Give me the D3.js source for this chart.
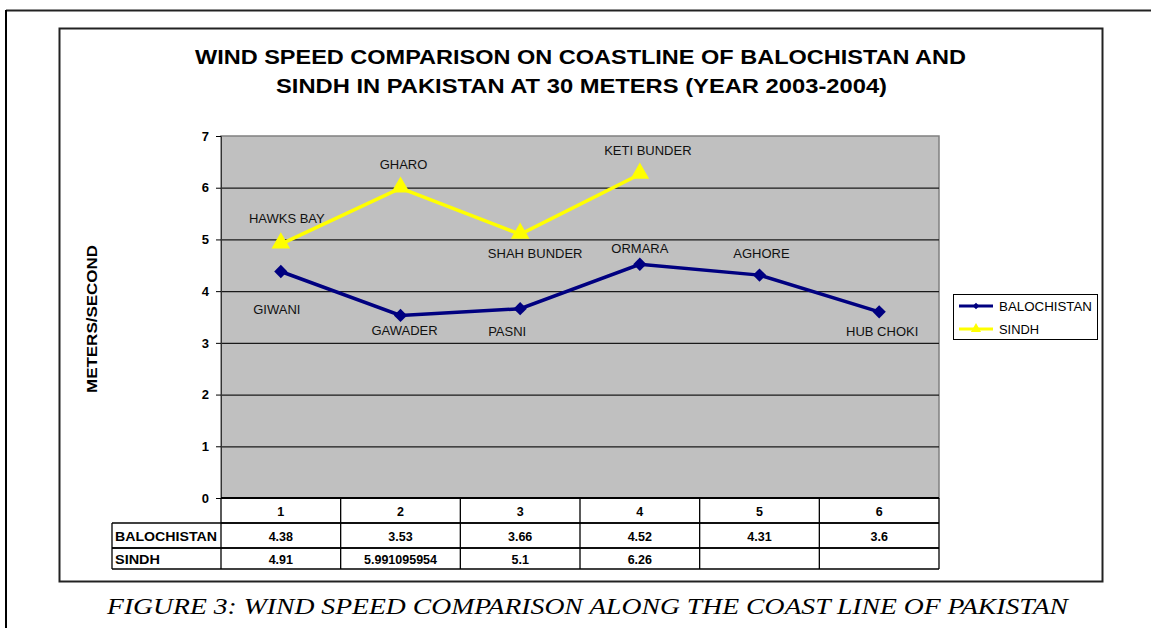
<!DOCTYPE html>
<html>
<head>
<meta charset="utf-8">
<script src="https://cdn.jsdelivr.net/npm/d3@7"></script>
<style>
  body { margin: 0; background: #fff; }
  svg { display: block; font-family: "Liberation Sans", Arial, sans-serif; }
</style>
</head>
<body>
<svg id="chart" width="1151" height="628"></svg>
<script>
// data
const categories = ["1", "2", "3", "4", "5", "6"];
const balochistanValues = [4.38, 3.53, 3.66, 4.52, 4.31, 3.6];
const sindhValues = [4.91, 5.991095954, 5.1, 6.26];
const balochistanSites = ["GIWANI", "GAWADER", "PASNI", "ORMARA", "AGHORE", "HUB CHOKI"];
const sindhSites = ["HAWKS BAY", "GHARO", "SHAH BUNDER", "KETI BUNDER"];
const sindhTableText = ["4.91", "5.991095954", "5.1", "6.26", "", ""];
const yTicks = [0, 1, 2, 3, 4, 5, 6, 7];

// label placement (dx, dy from the point)
const balochistanLabelOffsets = [[-4, 43], [4, 20], [-13, 27], [0, -11], [2, -17], [3, 24]];
const sindhLabelOffsets = [[6, -21], [3, -19], [15, 24], [8, -19]];

const svg = d3.select("#chart");
const plot = { left: 221, right: 939, top: 136, bottom: 498 };

// stretched text helper (the original renders wider than Liberation)
function fitText(sel, len) {
    return sel.attr("textLength", len).attr("lengthAdjust", "spacingAndGlyphs");
}

// outer page frame
svg.append("line").attr("x1", 6).attr("x2", 1151).attr("y1", 10.5).attr("y2", 10.5)
    .attr("stroke", "#222").attr("stroke-width", 2);
svg.append("line").attr("x1", 6).attr("x2", 6).attr("y1", 10).attr("y2", 628)
    .attr("stroke", "#000").attr("stroke-width", 2);

// chart box
svg.append("rect").attr("x", 59.5).attr("y", 28.5).attr("width", 1043).attr("height", 553)
    .attr("fill", "#fff").attr("stroke", "#222").attr("stroke-width", 2);

// title
const title = svg.append("g")
    .attr("font-weight", "bold")
    .attr("font-size", 20.5)
    .attr("fill", "#000");
fitText(title.append("text").attr("x", 195).attr("y", 64)
    .text("WIND SPEED COMPARISON ON COASTLINE OF BALOCHISTAN AND"), 771);
fitText(title.append("text").attr("x", 276).attr("y", 93)
    .text("SINDH IN PAKISTAN AT 30 METERS (YEAR 2003-2004)"), 611);

// scales
const x = d3.scaleBand().domain(categories).range([plot.left, plot.right]);
const y = d3.scaleLinear().domain([0, 7]).range([plot.bottom, plot.top]);

// plot area
svg.append("rect")
    .attr("x", plot.left).attr("y", plot.top)
    .attr("width", plot.right - plot.left).attr("height", plot.bottom - plot.top)
    .attr("fill", "#c0c0c0").attr("stroke", "#808080").attr("stroke-width", 1.5);

// gridlines
svg.append("g")
    .attr("transform", "translate(" + plot.left + ",0)")
    .call(d3.axisLeft(y).tickValues(yTicks.slice(1, 7)).tickSize(-(plot.right - plot.left)).tickFormat(""))
    .call(g => g.select(".domain").remove())
    .call(g => g.selectAll("line").attr("stroke", "#1a1a1a").attr("stroke-width", 1.2));

// y axis
svg.append("g")
    .attr("transform", "translate(" + plot.left + ",0)")
    .call(d3.axisLeft(y).tickValues(yTicks).tickSize(5).tickPadding(7).tickFormat(d3.format("d")))
    .call(g => g.select(".domain").attr("stroke", "#333"))
    .call(g => g.selectAll("text").attr("font-size", 13).attr("font-weight", "bold")
        .attr("font-family", "Liberation Sans, Arial, sans-serif").attr("fill", "#000"));

svg.append("line").attr("x1", plot.left).attr("x2", plot.right)
    .attr("y1", plot.bottom).attr("y2", plot.bottom)
    .attr("stroke", "#000").attr("stroke-width", 2);

// y label
fitText(svg.append("text")
    .attr("transform", "translate(97,319) rotate(-90)")
    .attr("x", -74)
    .attr("font-weight", "bold")
    .attr("font-size", 14.5)
    .text("METERS/SECOND"), 148);

// lines
const line = d3.line()
    .x((d, i) => x(categories[i]) + x.bandwidth() / 2)
    .y(d => y(d));

svg.append("path").datum(sindhValues)
    .attr("d", line).attr("fill", "none")
    .attr("stroke", "#ffff00").attr("stroke-width", 3.5);

svg.append("path").datum(balochistanValues)
    .attr("d", line).attr("fill", "none")
    .attr("stroke", "#000080").attr("stroke-width", 3.5);

// markers
const diamond = d3.symbol().type(d3.symbolSquare).size(88);
const triangle = d3.symbol().type(d3.symbolTriangle).size(150);

svg.append("g").selectAll("path").data(sindhValues).join("path")
    .attr("d", triangle)
    .attr("transform", (d, i) => "translate(" + (x(categories[i]) + x.bandwidth() / 2) + "," + (y(d) - 1) + ")")
    .attr("fill", "#ffff00");

svg.append("g").selectAll("path").data(balochistanValues).join("path")
    .attr("d", diamond)
    .attr("transform", (d, i) => "translate(" + (x(categories[i]) + x.bandwidth() / 2) + "," + y(d) + ") rotate(45)")
    .attr("fill", "#000080");

// point labels
function addLabels(values, names, offsets) {
    svg.append("g").selectAll("text").data(values).join("text")
        .attr("x", (d, i) => x(categories[i]) + x.bandwidth() / 2 + offsets[i][0])
        .attr("y", (d, i) => y(d) + offsets[i][1])
        .attr("text-anchor", "middle")
        .attr("font-size", 13)
        .attr("fill", "#111")
        .text((d, i) => names[i]);
}
addLabels(sindhValues, sindhSites, sindhLabelOffsets);
addLabels(balochistanValues, balochistanSites, balochistanLabelOffsets);

// data table
const rows = [
    { y0: 498, y1: 523, label: null, cells: categories },
    { y0: 523, y1: 548, label: "BALOCHISTAN", width: 102, cells: balochistanValues.map(String) },
    { y0: 548, y1: 569, label: "SINDH", width: 45, cells: sindhTableText }
];
const table = svg.append("g");
const labelLeft = 112;
rows.forEach(r => {
    const left = r.label ? labelLeft : plot.left;
    table.append("line").attr("x1", left).attr("x2", plot.right)
        .attr("y1", r.y1).attr("y2", r.y1).attr("stroke", "#000").attr("stroke-width", 1.3);
    if (r.label) {
        table.append("line").attr("x1", labelLeft).attr("x2", plot.right)
            .attr("y1", r.y0).attr("y2", r.y0).attr("stroke", "#000").attr("stroke-width", 1.3);
        table.append("line").attr("x1", labelLeft).attr("x2", labelLeft)
            .attr("y1", r.y0).attr("y2", r.y1).attr("stroke", "#000").attr("stroke-width", 1.3);
        fitText(table.append("text").attr("x", labelLeft + 3).attr("y", (r.y0 + r.y1) / 2 + 5)
            .attr("font-size", 12.5).attr("font-weight", "bold").text(r.label), r.width);
    }
    categories.concat(["end"]).forEach((c, i) => {
        const xx = i < categories.length ? x(c) : plot.right;
        table.append("line").attr("x1", xx).attr("x2", xx)
            .attr("y1", r.y0).attr("y2", r.y1).attr("stroke", "#000").attr("stroke-width", 1.3);
    });
    table.append("g").selectAll("text").data(r.cells).join("text")
        .attr("x", (d, i) => x(categories[i]) + x.bandwidth() / 2)
        .attr("y", (r.y0 + r.y1) / 2 + 5)
        .attr("text-anchor", "middle")
        .attr("font-size", 12.5).attr("font-weight", "bold")
        .text(d => d);
});

// legend
const legend = svg.append("g");
legend.append("rect").attr("x", 953.5).attr("y", 294.5).attr("width", 144).attr("height", 45)
    .attr("fill", "#fff").attr("stroke", "#000").attr("stroke-width", 1);
const legendItems = [
    { name: "BALOCHISTAN", color: "#000080", width: 93, symbol: d3.symbol().type(d3.symbolSquare).size(22)(), rot: 45 },
    { name: "SINDH", color: "#ffff00", width: 40, symbol: d3.symbol().type(d3.symbolTriangle).size(45)(), rot: 0 }
];
legendItems.forEach((d, i) => {
    const ly = 306 + i * 23;
    legend.append("line").attr("x1", 959).attr("x2", 993).attr("y1", ly).attr("y2", ly)
        .attr("stroke", d.color).attr("stroke-width", 3);
    legend.append("path").attr("d", d.symbol)
        .attr("transform", "translate(976," + ly + ") rotate(" + d.rot + ")")
        .attr("fill", d.color);
    fitText(legend.append("text").attr("x", 999).attr("y", ly + 5)
        .attr("font-size", 12.5).text(d.name), d.width);
});

// figure caption
fitText(svg.append("text")
    .attr("x", 107).attr("y", 614)
    .attr("font-family", "Liberation Serif, Times New Roman, serif")
    .attr("font-style", "italic")
    .attr("font-size", 24)
    .text("FIGURE 3: WIND SPEED COMPARISON ALONG THE COAST LINE OF PAKISTAN"), 961);
</script>
</body>
</html>
